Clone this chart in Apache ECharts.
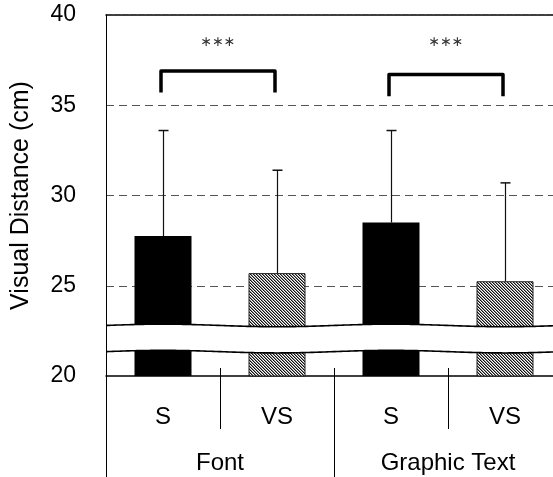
<!DOCTYPE html>
<html>
<head>
<meta charset="utf-8">
<style>
  html, body { margin: 0; padding: 0; background: #fff; }
  #chart { width: 553px; height: 477px; }
</style>
<script src="https://cdn.jsdelivr.net/npm/echarts@6/dist/echarts.min.js"></script>
</head>
<body>
<div id="chart"></div>
<script>
// Conditions (inner axis) and their groups (outer axis)
const categories = ['S', 'VS', 'S', 'VS'];
const groups = ['Font', 'Graphic Text'];

// Mean visual distance (cm) and standard deviation per condition
const means = [27.75, 25.7, 28.5, 25.25];
const sds = [5.85, 5.7, 5.1, 5.45];

// Value axis range and ticks
const yMin = 20, yMax = 40, yStep = 5;

// Significance brackets: [left index, right index], bar height, leg bottom, label
const bracketPairs = [[0, 1], [2, 3]];
const bracketTop = [36.9, 36.7];
const bracketLeg = [35.7, 35.5];
const bracketLabelY = [38.5, 38.5];
const bracketLabels = ['∗∗∗', '∗∗∗'];

// Axis break band (value range hidden behind the wavy strip)
const breakUpper = 22.8;
const breakLower = 21.35;

const FONT = '"Liberation Sans", Arial, sans-serif';

// Fine diagonal hatch used for the VS bars
function hatchCanvas() {
  const c = document.createElement('canvas');
  c.width = 3; c.height = 3;
  const g = c.getContext('2d');
  g.fillStyle = '#ffffff';
  g.fillRect(0, 0, 3, 3);
  for (let i = 0; i < 3; i++) {
    g.fillStyle = '#111111';
    g.fillRect(i, i, 1, 1);
    g.fillStyle = '#8a8a8a';
    g.fillRect((i + 1) % 3, i, 1, 1);
  }
  return c;
}
const hatch = { image: hatchCanvas(), repeat: 'repeat' };

const barData = means.map((v, i) => ({
  value: v,
  itemStyle: i % 2 === 0
    ? { color: '#000', borderColor: '#000', borderWidth: 0 }
    : { color: hatch, borderColor: '#222', borderWidth: 1 }
}));

const chart = echarts.init(document.getElementById('chart'), null, { renderer: 'canvas' });

chart.setOption({
  animation: false,
  backgroundColor: '#fff',
  grid: { left: 106, top: 15, width: 456, height: 361, containLabel: false, outerBoundsMode: 'none' },
  xAxis: [
    {
      type: 'category', data: categories, position: 'bottom',
      axisLine: { show: true, lineStyle: { color: '#000', width: 1.5 } },
      axisTick: { show: true, interval: 0, length: 53, lineStyle: { color: '#000', width: 1 } },
      axisLabel: { interval: 0, margin: 29, fontFamily: FONT, fontSize: 24, color: '#000' },
      splitLine: { show: false }
    },
    {
      type: 'category', data: groups, position: 'bottom', gridIndex: 0,
      axisLine: { show: false },
      axisTick: { show: true, interval: 0, length: 101, lineStyle: { color: '#000', width: 1 } },
      axisLabel: { interval: 0, margin: 75, fontFamily: FONT, fontSize: 24, color: '#000' },
      splitLine: { show: false }
    },
    {
      type: 'category', data: categories, position: 'bottom',
      axisLine: { show: false },
      axisTick: { show: true, inside: true, interval: 0, length: 8, lineStyle: { color: '#000', width: 1 } },
      axisLabel: { show: false },
      splitLine: { show: false }
    },
    {
      type: 'category', data: categories, position: 'top',
      axisLine: { show: true, lineStyle: { color: '#000', width: 1.5, type: [7, 1] } },
      axisTick: { show: false },
      axisLabel: { show: false },
      splitLine: { show: false }
    }
  ],
  yAxis: {
    type: 'value', min: yMin, max: yMax, interval: yStep,
    name: 'Visual Distance (cm)', nameLocation: 'middle', nameRotate: 90, nameGap: 72,
    nameTextStyle: { fontFamily: FONT, fontSize: 25, color: '#000' },
    axisLine: { show: true, lineStyle: { color: '#000', width: 1 } },
    axisTick: { show: false },
    axisLabel: { margin: 30, fontFamily: FONT, fontSize: 23, color: '#000' },
    splitLine: {
      show: true,
      lineStyle: { color: ['transparent', '#555', '#555', '#555', 'transparent'], width: 1, type: [8, 5] }
    }
  },
  series: [
    {
      type: 'bar', xAxisIndex: 0, data: barData, barWidth: 57, z: 2
    },
    {
      // upper error bars with caps
      type: 'custom', xAxisIndex: 0, z: 3,
      data: means.map((m, i) => [i, m, m + sds[i]]),
      renderItem: function (params, api) {
        const base = api.coord([api.value(0), api.value(1)]);
        const top = api.coord([api.value(0), api.value(2)]);
        const x = Math.round(base[0]) + 0.5;
        return {
          type: 'group',
          children: [
            { type: 'line', shape: { x1: x, y1: base[1], x2: x, y2: top[1] },
              style: { stroke: '#111', lineWidth: 1.2 } },
            { type: 'line', shape: { x1: x - 5, y1: top[1], x2: x + 5, y2: top[1] },
              style: { stroke: '#111', lineWidth: 1.5 } }
          ]
        };
      }
    },
    {
      // wavy break strip across the value axis
      type: 'custom', xAxisIndex: 0, z: 4,
      data: [[0]],
      renderItem: function (params, api) {
        const cs = params.coordSys;
        const period = api.size([1, 0])[0] * 2;
        const x0 = api.coord([0, breakUpper])[0];
        const yU = api.coord([0, breakUpper])[1];
        const yL = api.coord([0, breakLower])[1];
        const amp = 1.3;
        const up = [], low = [];
        for (let x = cs.x + 1; x <= cs.x + cs.width; x += 2) {
          const d = -amp * Math.cos(2 * Math.PI * (x - x0) / period);
          up.push([x, yU + d]);
          low.push([x, yL + d]);
        }
        const poly = up.concat(low.slice().reverse());
        return {
          type: 'group',
          children: [
            { type: 'polygon', shape: { points: poly }, style: { fill: '#fff', stroke: null } },
            { type: 'polyline', shape: { points: up }, style: { stroke: '#000', lineWidth: 1.6, fill: null } },
            { type: 'polyline', shape: { points: low }, style: { stroke: '#000', lineWidth: 1.6, fill: null } }
          ]
        };
      }
    },
    {
      // significance brackets and stars
      type: 'custom', xAxisIndex: 0, z: 5,
      data: bracketPairs.map((p, k) => [p[0], p[1], bracketTop[k], bracketLeg[k], bracketLabelY[k], k]),
      renderItem: function (params, api) {
        const a = api.coord([api.value(0), api.value(2)]);
        const b = api.coord([api.value(1), api.value(2)]);
        const leg = api.coord([api.value(0), api.value(3)])[1];
        const ly = api.coord([api.value(0), api.value(4)])[1];
        const k = api.value(5);
        return {
          type: 'group',
          children: [
            { type: 'polyline',
              shape: { points: [[a[0] - 2, leg], [a[0] - 2, a[1]], [b[0] - 2, b[1]], [b[0] - 2, leg]] },
              style: { stroke: '#000', lineWidth: 3.5, fill: null, lineJoin: 'round' } },
            { type: 'text',
              style: { x: (a[0] + b[0]) / 2 - 2, y: ly, text: bracketLabels[k],
                       fontFamily: '"DejaVu Sans", sans-serif', fontSize: 14, fill: '#333',
                       align: 'center', verticalAlign: 'middle' } }
          ]
        };
      }
    }
  ]
});
</script>
</body>
</html>
